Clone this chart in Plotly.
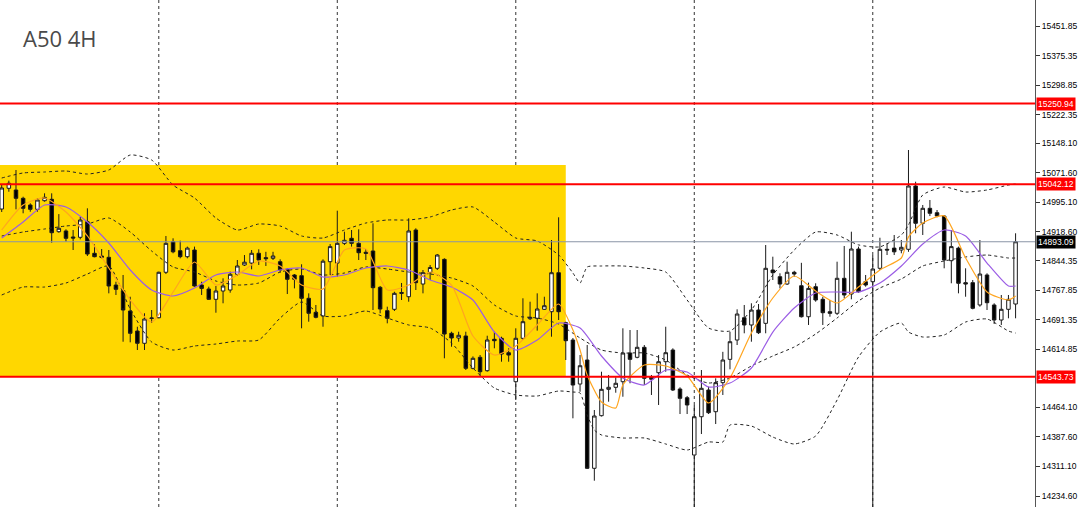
import plotly.graph_objects as go

# ---------------- candle data (A50, 4H) ----------------
opens = [14977.9, 15031.5, 15027.1, 15005.6, 14988.3, 14977.1, 14999.4, 15003.0, 14919.1, 14921.0,
         14905.4, 14904.6, 14945.0, 14863.2, 14856.1, 14852.8, 14781.0, 14766.3, 14713.7, 14661.9,
         14630.1, 14694.3, 14696.3, 14814.0, 14893.2, 14869.9, 14854.4, 14871.7, 14781.0, 14770.7,
         14744.0, 14765.5, 14768.1, 14808.8, 14832.9, 14837.8, 14863.2, 14851.9, 14850.2, 14841.4,
         14821.7, 14807.0, 14805.2, 14746.6, 14710.3, 14700.8, 14841.4, 14837.8, 14889.0, 14902.0,
         14889.0, 14865.8, 14869.1, 14775.1, 14714.5, 14718.1, 14759.0, 14750.7, 14923.5, 14783.6,
         14812.9, 14824.3, 14847.5, 14656.0, 14643.8, 14649.0, 14565.3, 14593.8, 14559.1, 14640.4,
         14643.0, 14605.7, 14530.6, 14643.0, 14693.8, 14694.8, 14718.1, 14711.9, 14812.9, 14683.4,
         14638.6, 14524.6, 14586.8, 14306.3, 14442.6, 14510.9, 14516.1, 14530.6, 14604.9, 14593.8,
         14619.7, 14543.6, 14553.9, 14582.4, 14612.7, 14511.7, 14489.2, 14340.7, 14439.9, 14509.1,
         14452.9, 14528.1, 14588.5, 14638.6, 14696.3, 14677.5, 14716.3, 14681.8, 14819.9, 14802.6,
         14783.6, 14814.0, 14779.2, 14698.9, 14776.7, 14744.0, 14711.9, 14707.8, 14798.4, 14757.7,
         14874.3, 14789.6, 14789.6, 14824.3, 14873.5, 14876.6, 14871.7, 14873.5, 15037.5, 14940.9,
         14979.7, 14968.3, 14959.6, 14844.0, 14876.6, 14787.1, 14787.1, 14729.3, 14807.0, 14729.3,
         14690.4, 14718.1, 14731.8]

highs = [15042.6, 15051.3, 15078.9, 15009.7, 14992.7, 15005.6, 15018.5, 15018.5, 14964.7, 14925.3,
         14923.5, 14957.9, 14979.7, 14886.4, 14874.3, 14871.7, 14789.6, 14807.0, 14750.7, 14673.0,
         14707.8, 14716.3, 14815.6, 14908.0, 14902.0, 14895.8, 14880.5, 14880.5, 14789.6, 14776.7,
         14778.5, 14798.4, 14815.6, 14845.8, 14858.7, 14871.7, 14873.5, 14867.0, 14867.0, 14847.5,
         14824.3, 14809.5, 14834.7, 14759.5, 14729.3, 14847.5, 14887.2, 14973.5, 14919.1, 14923.5,
         14925.3, 14874.3, 14940.9, 14778.5, 14724.9, 14763.6, 14786.3, 14953.8, 14927.9, 14819.9,
         14832.9, 14861.3, 14850.2, 14660.1, 14660.1, 14660.1, 14596.1, 14599.7, 14649.7, 14660.1,
         14647.2, 14617.1, 14668.9, 14746.6, 14737.8, 14759.5, 14750.7, 14897.6, 14956.4, 14686.0,
         14643.8, 14599.7, 14625.6, 14457.3, 14556.5, 14548.0, 14542.0, 14668.9, 14664.5, 14664.5,
         14625.6, 14548.0, 14599.7, 14673.0, 14617.1, 14516.1, 14493.6, 14470.3, 14560.9, 14517.7,
         14539.4, 14608.0, 14660.1, 14718.1, 14729.3, 14733.7, 14731.8, 14884.6, 14854.4, 14811.4,
         14841.4, 14817.8, 14838.5, 14787.1, 14785.5, 14750.7, 14742.2, 14841.4, 14882.1, 14919.1,
         14880.5, 14807.0, 14858.7, 14903.5, 14889.0, 14910.6, 14897.6, 15130.7, 15048.6, 14988.3,
         15001.2, 14975.3, 14962.2, 14923.5, 14880.5, 14824.3, 14794.0, 14897.6, 14811.4, 14733.7,
         14755.2, 14755.2, 14915.0]

lows = [14970.1, 15022.6, 14977.1, 14966.8, 14970.9, 14970.9, 14996.8, 14890.6, 14916.5, 14893.2,
        14871.7, 14899.4, 14856.1, 14852.8, 14850.2, 14759.5, 14755.2, 14634.2, 14632.6, 14612.7,
        14612.7, 14682.6, 14694.8, 14809.5, 14863.2, 14850.2, 14850.2, 14776.7, 14755.2, 14742.2,
        14709.3, 14733.7, 14761.1, 14804.4, 14830.3, 14821.7, 14832.9, 14830.3, 14845.8, 14812.9,
        14757.7, 14772.3, 14668.9, 14686.0, 14694.8, 14673.0, 14807.0, 14802.6, 14884.6, 14880.5,
        14845.8, 14845.8, 14716.3, 14707.8, 14681.8, 14713.7, 14742.2, 14737.8, 14768.1, 14759.5,
        14794.0, 14819.9, 14591.2, 14621.2, 14634.2, 14560.9, 14562.7, 14543.6, 14556.5, 14617.1,
        14582.4, 14582.4, 14483.2, 14638.6, 14690.4, 14662.9, 14716.3, 14647.2, 14690.4, 14586.8,
        14435.8, 14504.6, 14304.5, 14274.2, 14440.5, 14478.8, 14502.1, 14491.7, 14526.5, 14591.2,
        14522.0, 14496.2, 14470.3, 14556.5, 14506.5, 14446.9, 14446.9, 14200.0, 14395.1, 14446.9,
        14421.0, 14496.2, 14562.7, 14625.6, 14656.0, 14634.2, 14654.1, 14656.0, 14794.0, 14772.3,
        14781.0, 14802.6, 14696.9, 14677.5, 14737.8, 14677.5, 14698.9, 14703.4, 14746.6, 14744.0,
        14761.1, 14776.7, 14200.0, 14819.9, 14858.7, 14858.7, 14863.2, 14867.0, 14915.0, 14910.6,
        14959.6, 14956.4, 14824.3, 14785.5, 14759.5, 14750.7, 14718.1, 14724.9, 14716.3, 14680.1,
        14677.5, 14694.8, 14694.8]

closes = [15032.3, 15044.5, 15005.6, 14979.7, 14977.1, 15001.2, 15008.1, 14916.5, 14927.9, 14902.0,
          14902.8, 14949.4, 14861.3, 14854.4, 14852.8, 14778.5, 14769.9, 14716.3, 14656.0, 14630.1,
          14693.0, 14695.6, 14814.0, 14889.0, 14867.0, 14854.4, 14876.6, 14778.5, 14772.3, 14744.0,
          14765.5, 14778.5, 14808.8, 14830.3, 14840.1, 14863.2, 14845.8, 14849.3, 14856.1, 14819.9,
          14795.9, 14795.9, 14746.6, 14707.8, 14697.4, 14842.7, 14880.5, 14889.0, 14896.8, 14889.0,
          14864.7, 14863.2, 14774.1, 14718.9, 14694.8, 14759.5, 14761.6, 14921.0, 14787.1, 14812.9,
          14826.4, 14858.7, 14654.1, 14643.8, 14650.8, 14565.3, 14591.2, 14556.5, 14638.6, 14636.8,
          14602.3, 14599.7, 14643.0, 14686.0, 14697.4, 14718.9, 14727.4, 14812.9, 14711.9, 14636.8,
          14522.0, 14572.0, 14306.3, 14441.8, 14510.9, 14516.1, 14526.5, 14604.9, 14588.5, 14619.7,
          14539.4, 14536.9, 14582.4, 14605.7, 14509.1, 14487.6, 14470.3, 14439.9, 14513.5, 14450.3,
          14528.1, 14586.8, 14634.2, 14705.9, 14677.5, 14716.3, 14657.5, 14824.3, 14812.9, 14783.6,
          14814.0, 14809.5, 14698.9, 14772.3, 14742.2, 14709.3, 14707.8, 14798.4, 14755.2, 14874.3,
          14763.6, 14781.0, 14822.5, 14873.5, 14871.7, 14867.0, 14878.7, 15037.5, 14940.9, 14979.7,
          14966.8, 14959.6, 14845.8, 14880.5, 14785.5, 14783.6, 14720.7, 14809.5, 14735.2, 14690.4,
          14718.1, 14744.0, 14893.09]

bars = list(range(len(closes)))

# ---------------- indicator lines (read at sampled bars) ----------------
fast_ma_bars = [0, 3, 6, 9, 12, 15, 18, 21, 24, 27, 30, 33, 36, 39, 42, 45, 48, 51, 54, 57,
                60, 63, 66, 69, 72, 75, 78, 80, 81, 82, 84, 86, 87, 90, 93, 96, 99, 102, 105, 108,
                111, 114, 117, 120, 123, 126, 127, 129, 132, 135, 138, 141, 142]
fast_ma = [14923.5, 14988.3, 15006.4, 14970.1, 14908.0, 14825.1, 14742.2, 14685.2, 14762.9, 14840.6,
           14781.0, 14807.0, 14843.2, 14830.3, 14781.0, 14770.7, 14871.7, 14874.3, 14768.1, 14781.0,
           14814.7, 14781.0, 14649.0, 14599.7, 14623.1, 14677.5, 14731.8, 14664.5, 14612.7, 14548.0,
           14478.0, 14462.5, 14522.0, 14573.9, 14571.3, 14545.4, 14475.4, 14540.2, 14656.7, 14747.4,
           14804.4, 14765.5, 14734.4, 14775.8, 14819.9, 14851.0, 14905.4, 14941.6, 14960.0, 14851.0,
           14762.9, 14742.2, 14752.6]

slow_ma_bars = [0, 3, 6, 9, 12, 15, 18, 21, 24, 27, 30, 33, 36, 39, 42, 45, 48, 51, 54, 57,
                60, 63, 66, 69, 72, 75, 78, 81, 84, 87, 90, 93, 96, 99, 102, 105, 108, 111, 114, 117,
                120, 123, 126, 129, 132, 135, 138, 141, 142]
slow_ma = [14902.8, 14944.2, 14988.3, 14983.1, 14944.2, 14889.8, 14819.9, 14768.1, 14752.6, 14773.3,
           14807.0, 14814.7, 14804.4, 14819.9, 14825.1, 14801.8, 14807.0, 14825.1, 14830.3, 14819.9,
           14794.0, 14775.8, 14742.2, 14659.3, 14612.7, 14638.6, 14682.6, 14669.7, 14597.2, 14540.2,
           14522.0, 14560.9, 14555.7, 14516.9, 14527.2, 14566.1, 14659.3, 14721.5, 14760.3, 14762.9,
           14762.9, 14786.2, 14830.3, 14887.2, 14923.5, 14908.0, 14838.0, 14778.5, 14778.5]

upper_bars = [0, 3, 6, 9, 12, 15, 18, 21, 24, 27, 30, 33, 36, 39, 42, 45, 48, 51, 54, 57,
              60, 63, 66, 69, 72, 75, 78, 80, 81, 82, 84, 87, 90, 93, 96, 99, 102, 105, 108, 111,
              114, 117, 120, 123, 126, 127, 129, 132, 135, 138, 141, 142]
upper_band = [15058.2, 15071.2, 15073.7, 15076.3, 15068.5, 15078.9, 15117.7, 15104.8, 15040.0, 15006.4,
              14954.6, 14923.5, 14939.0, 14933.9, 14908.0, 14902.8, 14923.5, 14941.6, 14949.4, 14949.4,
              14957.2, 14975.3, 14983.1, 14944.2, 14902.8, 14895.1, 14858.7, 14812.1, 14786.2, 14827.7,
              14830.3, 14830.3, 14825.1, 14814.7, 14742.2, 14669.7, 14661.9, 14716.3, 14807.0, 14871.7,
              14918.3, 14910.6, 14885.0, 14879.9, 14910.6, 14936.4, 15014.2, 15034.9, 15021.9, 15027.1,
              15040.0, 15042.6]

middle_bars = slow_ma_bars
middle_band = [14908.0, 14918.3, 14926.1, 14933.9, 14939.0, 14954.6, 14918.3, 14869.1, 14827.7, 14814.7,
               14791.4, 14781.0, 14786.2, 14814.7, 14822.5, 14807.0, 14812.1, 14827.7, 14822.5, 14814.7,
               14809.5, 14799.2, 14778.5, 14729.3, 14700.8, 14695.6, 14680.0, 14643.8, 14612.7, 14604.9,
               14604.9, 14586.8, 14547.9, 14527.2, 14540.2, 14571.3, 14597.2, 14620.5, 14654.1, 14695.6,
               14739.6, 14773.3, 14796.6, 14830.3, 14843.2, 14853.6, 14858.7, 14851.0, 14851.0]

lower_bars = [0, 3, 6, 9, 12, 15, 18, 21, 24, 27, 30, 33, 36, 39, 42, 45, 48, 51, 54, 57,
              60, 63, 66, 69, 72, 75, 78, 80, 81, 82, 83, 84, 87, 90, 93, 96, 99, 101, 102, 105,
              108, 111, 114, 117, 120, 123, 126, 127, 129, 132, 135, 138, 141, 142]
lower_band = [14755.2, 14775.8, 14775.8, 14786.2, 14809.5, 14830.3, 14718.9, 14633.4, 14612.7, 14623.1,
              14628.2, 14636.0, 14638.6, 14695.6, 14737.1, 14700.8, 14700.8, 14713.7, 14695.6, 14677.5,
              14669.7, 14630.8, 14566.1, 14514.3, 14496.2, 14493.6, 14506.5, 14503.9, 14501.3, 14444.4,
              14405.5, 14392.6, 14384.8, 14384.8, 14369.3, 14353.7, 14374.4, 14374.4, 14418.3, 14415.7,
              14387.3, 14369.3, 14390.0, 14483.2, 14594.6, 14659.3, 14682.6, 14659.3, 14646.4, 14651.6,
              14685.2, 14693.0, 14661.9, 14656.7]

# ---------------- levels / annotations ----------------
red_levels = [15250.94, 15042.12, 14543.73]
last_price = 14893.09
zone_top = 15092.0
zone_bottom = 14543.73
zone_end_bar = 79
grid_bars = [22, 47, 72, 97, 122]
tick_values = [15451.85, 15375.35, 15298.85, 15222.35, 15148.10, 15071.60, 14995.10, 14918.60,
               14844.35, 14767.85, 14691.35, 14614.85, 14464.10, 14387.60, 14311.10, 14234.60]
title_text = "A50 4H"

fig = go.Figure()

fig.add_trace(go.Candlestick(
    x=bars, open=opens, high=highs, low=lows, close=closes,
    increasing=dict(line=dict(color="#1a1a1a", width=1), fillcolor="#ffffff"),
    decreasing=dict(line=dict(color="#1a1a1a", width=1), fillcolor="#000000"),
    whiskerwidth=0, hoverinfo="skip", showlegend=False,
))

band_style = dict(color="#222222", width=1, dash="3px,3px", shape="spline", smoothing=0.6)
for bx, by in [(upper_bars, upper_band), (middle_bars, middle_band), (lower_bars, lower_band)]:
    fig.add_trace(go.Scatter(x=bx, y=by, mode="lines", line=band_style,
                             hoverinfo="skip", showlegend=False))

fig.add_trace(go.Scatter(x=slow_ma_bars, y=slow_ma, mode="lines",
                         line=dict(color="#9b5de5", width=1.2, shape="spline", smoothing=0.6),
                         hoverinfo="skip", showlegend=False))
fig.add_trace(go.Scatter(x=fast_ma_bars, y=fast_ma, mode="lines",
                         line=dict(color="#ffa51f", width=1.2, shape="spline", smoothing=0.6),
                         hoverinfo="skip", showlegend=False))

shapes = [dict(type="rect", xref="x", yref="y", x0=-2, x1=zone_end_bar, y0=zone_bottom, y1=zone_top,
               fillcolor="#FFD700", line=dict(width=0), layer="below")]
for g in grid_bars:
    shapes.append(dict(type="line", xref="x", yref="paper", x0=g, x1=g, y0=0, y1=1,
                       line=dict(color="#333333", width=1, dash="dot"), layer="below"))
for lv in red_levels:
    shapes.append(dict(type="line", xref="paper", yref="y", x0=0, x1=1, y0=lv, y1=lv,
                       line=dict(color="#ff0000", width=2), layer="above"))
shapes.append(dict(type="line", xref="paper", yref="y", x0=0, x1=1, y0=last_price, y1=last_price,
                   line=dict(color="#8a94a6", width=1), layer="above"))

annotations = [dict(text=title_text, xref="paper", yref="paper", x=0.0205, y=0.958,
                    xanchor="left", yanchor="top", showarrow=False,
                    font=dict(family="Open Sans, Noto Sans, sans-serif", size=22, color="#4a4a4a"))]
for lv in red_levels:
    annotations.append(dict(text=f"{lv:.2f}", xref="paper", yref="y", x=1, y=lv,
                            xanchor="left", yanchor="middle", xshift=1, showarrow=False,
                            bgcolor="#ff0000", borderpad=1,
                            font=dict(family="Liberation Sans, Arial, sans-serif", size=8.5, color="#ffffff")))
annotations.append(dict(text=f"{last_price:.2f}", xref="paper", yref="y", x=1, y=last_price,
                        xanchor="left", yanchor="middle", xshift=1, showarrow=False,
                        bgcolor="#000000", borderpad=1,
                        font=dict(family="Liberation Sans, Arial, sans-serif", size=8.5, color="#ffffff")))

fig.update_layout(
    width=1080, height=507,
    margin=dict(l=0, r=45, t=0, b=0),
    paper_bgcolor="#ffffff", plot_bgcolor="#ffffff",
    showlegend=False,
    shapes=shapes, annotations=annotations,
    xaxis=dict(range=[-0.24, 144.72], visible=False, rangeslider=dict(visible=False),
               showgrid=False, zeroline=False),
    yaxis=dict(side="right", range=[14206.1, 15519.2], tickvals=tick_values,
               ticktext=[f"{v:.2f}" for v in tick_values],
               ticks="outside", ticklen=4, tickcolor="#333333",
               showline=True, linecolor="#555555", linewidth=1,
               showgrid=False, zeroline=False,
               tickfont=dict(family="Liberation Sans, Arial, sans-serif", size=8.5, color="#000000")),
)

fig.write_html("out.html", config={"displayModeBar": False},
               post_script="document.body.style.margin='0px';document.body.style.overflow='hidden';")
